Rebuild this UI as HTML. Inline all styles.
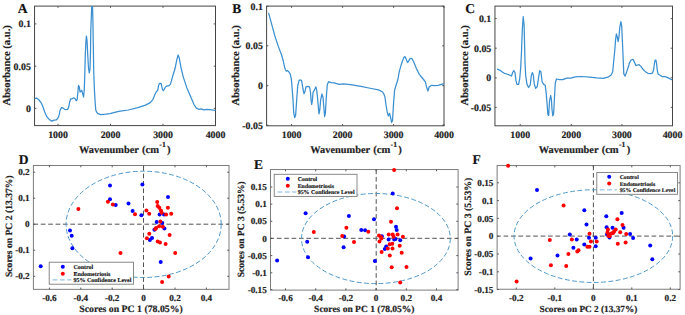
<!DOCTYPE html>
<html><head><meta charset="utf-8"><style>
html,body{margin:0;padding:0;background:#fff;width:685px;height:315px;overflow:hidden}
svg{display:block}
</style></head><body>
<svg width="685" height="315" viewBox="0 0 685 315">
<style>
text{font-family:"Liberation Serif", serif;font-weight:bold;fill:#222;stroke:#222;stroke-width:0.18px;text-rendering:geometricPrecision}
.t{font-size:9.9px}
.t2{font-size:9.2px}
.l{font-size:10.6px}
.l2{font-size:9.7px}
.p{font-size:13.5px;fill:#111}
.lg{font-size:6.0px;stroke-width:0.14px;fill:#111;stroke:#111}
</style>
<defs>
<clipPath id="cA"><rect x="34.55" y="6.1" width="180.95" height="119.5"/></clipPath>
<clipPath id="cB"><rect x="266.6" y="6.1" width="177.39999999999998" height="119.7"/></clipPath>
<clipPath id="cC"><rect x="494.95" y="6.1" width="177.55" height="119.7"/></clipPath>
<clipPath id="cD"><rect x="33.4" y="165.5" width="195.6" height="123.85000000000002"/></clipPath>
<clipPath id="cE"><rect x="270.5" y="169.55" width="187.60000000000002" height="120.55000000000001"/></clipPath>
<clipPath id="cF"><rect x="497.1" y="165.55" width="183.0" height="123.69"/></clipPath>
</defs>
<rect width="685" height="315" fill="#fff"/>
<rect x="34.55" y="6.1" width="180.95" height="119.5" fill="none" stroke="#454545" stroke-width="1.0"/>
<path d="M58 125.6v-1.8M58 6.1v1.8M110.5 125.6v-1.8M110.5 6.1v1.8M163 125.6v-1.8M163 6.1v1.8M215.5 125.6v-1.8M215.5 6.1v1.8M34.55 108.4h1.8M215.5 108.4h-1.8M34.55 66.2h1.8M215.5 66.2h-1.8M34.55 23.9h1.8M215.5 23.9h-1.8" stroke="#4a4a4a" stroke-width="0.9" fill="none"/>
<polyline points="34.4,98.8 35.1,98.3 36.8,98.1 39,100 41.2,102.8 42.9,106.7 44.6,111.7 46.8,116.7 49.6,119.8 51.8,121.1 54,120.2 56.2,120 57.9,118.3 59.3,114.4 60,110.5 61.5,107.6 63,107.9 64.6,109.4 66.1,109.6 67.6,109.4 68.6,107.4 69.6,102.3 70.7,98.8 72.2,98.8 73.7,97.8 75.2,98.8 76.2,100.8 77.1,99.8 77.8,93.2 78.5,85.3 79.3,87.1 80.1,92.2 80.8,91.2 81.8,90.4 82.8,94.2 83.6,97 84.2,90.2 84.7,78 85.3,55 85.9,42 86.4,36 87,40 87.8,56 88.5,68 89.3,73 90,69 90.5,52 90.8,30 91.5,12 92,2 92.4,2 92.9,20 93.3,45 93.7,70 94.2,85 94.6,93 95.2,103 95.8,110.2 97,112.8 98.1,113.7 100.7,114.6 106,114.2 110,113.6 113.8,112.6 118.8,111.4 128.3,110 137.9,107.6 145.5,105.1 150.3,102.6 152.8,99.7 155,94.3 156.6,91.3 157.7,90.5 158.5,85.9 159.3,83.6 160.4,83.3 161.2,83.6 161.8,86.7 162.5,89.7 163.5,90.5 164.6,88.6 165.7,86.7 167.3,85.9 168.8,85.9 170.3,84.4 171.5,80.6 172.6,76.5 175,68.8 176.9,59.3 178.1,55 179.3,58.1 181,67.6 183.3,77.1 186.9,87.9 190.5,96.2 194,104.5 196.4,108.1 198.8,109.3 201.2,108.8 203.6,109.8 207.1,109.3 211.9,109.8 215.7,110.5" fill="none" stroke="#3a8fd0" stroke-width="1.25" stroke-linejoin="round" stroke-linecap="round" clip-path="url(#cA)"/>
<text x="58" y="137.69" text-anchor="middle" class="t">1000</text>
<text x="110.5" y="137.69" text-anchor="middle" class="t">2000</text>
<text x="163" y="137.69" text-anchor="middle" class="t">3000</text>
<text x="215.5" y="137.69" text-anchor="middle" class="t">4000</text>
<text x="30.85" y="111.75" text-anchor="end" class="t">0</text>
<text x="30.85" y="69.55" text-anchor="end" class="t">0.05</text>
<text x="30.85" y="27.25" text-anchor="end" class="t">0.1</text>
<text x="79.05" y="152.8" style="font-size:10.35px">Wavenumber</text>
<text x="141.95" y="152.8" style="font-size:10.6px">(cm</text>
<text x="159.35" y="146.6" style="font-size:7.7px">-1</text>
<text x="166.95" y="152.8" style="font-size:10.6px">)</text>
<text x="0" y="0" text-anchor="middle" class="l" transform="translate(10 65.3) rotate(-90)">Absorbance (a.u.)</text>
<rect x="266.6" y="6.1" width="177.4" height="119.7" fill="none" stroke="#454545" stroke-width="1.0"/>
<path d="M291.6 125.8v-1.8M291.6 6.1v1.8M342.6 125.8v-1.8M342.6 6.1v1.8M393.6 125.8v-1.8M393.6 6.1v1.8M444 125.8v-1.8M444 6.1v1.8M266.6 125.2h1.8M444 125.2h-1.8M266.6 85.7h1.8M444 85.7h-1.8M266.6 45.8h1.8M444 45.8h-1.8M266.6 6.3h1.8M444 6.3h-1.8" stroke="#4a4a4a" stroke-width="0.9" fill="none"/>
<polyline points="268.7,13.4 271.6,23.9 274.9,36.1 278.2,46.1 281.6,55 283.3,61 284.3,66 285.3,69.5 286.3,71.2 287.2,70.5 288.6,71.5 290.3,74.2 291.3,79 291.8,84.1 293,99.4 293.7,112.7 294.7,117.5 295.6,115.6 296.6,101.3 297.7,86 299.1,80.3 300.6,79.9 301.6,80.6 302.9,88.5 304,93.7 305.1,90.9 306,86.9 307.9,86.4 309.5,86.9 310.5,92.5 311.1,100.4 311.7,104.4 312.4,100.4 313,92.5 314,90.9 315.1,88.5 315.9,86.9 316.7,90.1 317.5,97.2 318.3,106.7 319,113.9 319.8,109.9 320.6,100.4 321.9,94 323,97.2 323.8,106.7 324.6,116.6 325.4,113.1 326.2,98.8 327.3,84.5 328.6,81.7 331,82.6 334.1,82.8 339.3,84.4 343.4,83.9 350.6,84.6 361,86.4 371.3,88.5 378.5,89.9 382.6,92 383.6,93.6 385,97.1 386,105 387.1,111.4 388.3,116 389.6,113.4 390.6,117.5 391.6,122.3 392.5,120.7 393.6,102.9 394.6,90 396.4,84.3 397.9,79.5 399.3,71.4 401.2,64.8 403.1,59.2 404,57.2 404.9,56.6 405.9,58.4 407,61.4 407.7,62.5 408.6,61.2 409.8,58.9 411.1,58.3 412.4,59.3 414.5,63.8 416.4,68.6 419.3,74.3 423.1,79 425.4,81.9 426.5,86.7 427.9,91 429.2,86.7 431.7,85.3 434.5,85.7 438.3,85.3 442.1,84.2 444.3,83.8" fill="none" stroke="#3a8fd0" stroke-width="1.25" stroke-linejoin="round" stroke-linecap="round" clip-path="url(#cB)"/>
<text x="291.6" y="137.69" text-anchor="middle" class="t">1000</text>
<text x="342.6" y="137.69" text-anchor="middle" class="t">2000</text>
<text x="393.6" y="137.69" text-anchor="middle" class="t">3000</text>
<text x="444" y="137.69" text-anchor="middle" class="t">4000</text>
<text x="262.9" y="128.55" text-anchor="end" class="t">-0.05</text>
<text x="262.9" y="89.05" text-anchor="end" class="t">0</text>
<text x="262.9" y="49.15" text-anchor="end" class="t">0.05</text>
<text x="262.9" y="9.65" text-anchor="end" class="t">0.1</text>
<text x="310.3" y="152.8" style="font-size:10.35px">Wavenumber</text>
<text x="373.2" y="152.8" style="font-size:10.6px">(cm</text>
<text x="390.6" y="146.6" style="font-size:7.7px">-1</text>
<text x="398.2" y="152.8" style="font-size:10.6px">)</text>
<text x="0" y="0" text-anchor="middle" class="l" transform="translate(238.7 65.3) rotate(-90)">Absorbance (a.u.)</text>
<rect x="494.95" y="6.1" width="177.55" height="119.7" fill="none" stroke="#454545" stroke-width="1.0"/>
<path d="M520.2 125.8v-1.8M520.2 6.1v1.8M571.3 125.8v-1.8M571.3 6.1v1.8M621.9 125.8v-1.8M621.9 6.1v1.8M672.5 125.8v-1.8M672.5 6.1v1.8M494.95 107.4h1.8M672.5 107.4h-1.8M494.95 77.8h1.8M672.5 77.8h-1.8M494.95 48.2h1.8M672.5 48.2h-1.8M494.95 18.6h1.8M672.5 18.6h-1.8" stroke="#4a4a4a" stroke-width="0.9" fill="none"/>
<polyline points="497.4,69.2 499.6,70.1 501.9,71.7 504.3,73.3 506.7,74 509.1,74.8 511.5,76 512.7,72.5 513.8,70.6 515,72.5 515.9,80.4 517,84.4 518.6,84.4 519.7,78.8 520.7,67.7 521.5,52 522.3,30 523.2,16.7 524.1,25 524.6,45 525,62 525.7,75.6 527,84.4 528.6,87.5 530.2,85.2 531.3,75.6 532.4,72.5 533.4,75.6 534.2,83.6 535.6,88.3 537.2,86.7 538.4,78.8 539.7,70.6 540.8,71.7 541.6,77.2 542.1,81.7 543.7,84.4 545.2,85.2 546.2,93.1 547.2,105.5 547.9,114.8 548.7,115.4 549.5,101.3 550.7,95.5 551.4,99.3 552,109.6 552.8,115.8 553.6,114.1 554.5,97.2 555.3,82.7 556.5,79 559.6,79.6 562.7,79.6 566.9,78.2 571,78.2 575.1,76.9 581.3,76.5 589.6,77.1 596.7,77.9 603.3,78.3 607.8,77.2 611.1,75 612.7,71.7 614,58.3 614.8,50 615.6,39.4 616.4,33.9 617.2,36.7 618.1,41.7 618.9,37.2 619.8,27.2 620.9,21.7 621.7,26.1 622.2,37.2 622.8,50 623.3,62 623.8,73.9 625.1,76.1 626.7,71.7 628.9,65 629.4,62.9 631.1,60 633,59.3 634.4,62.1 635.9,65.7 637.3,65 639.1,64.7 640.9,66.4 643,69.3 645.1,71.4 648,73.3 650.9,73.6 652.6,72.9 653.7,69.3 654.4,63.6 655.1,60 655.9,60 656.6,63.6 657.3,70.7 658.3,74.3 660.1,75.3 662.3,76.7 664.4,76.7 666.6,77.1 668.7,78.1 670.9,79.3 672,79.7" fill="none" stroke="#3a8fd0" stroke-width="1.25" stroke-linejoin="round" stroke-linecap="round" clip-path="url(#cC)"/>
<text x="520.2" y="137.69" text-anchor="middle" class="t">1000</text>
<text x="571.3" y="137.69" text-anchor="middle" class="t">2000</text>
<text x="621.9" y="137.69" text-anchor="middle" class="t">3000</text>
<text x="672.5" y="137.69" text-anchor="middle" class="t">4000</text>
<text x="491.25" y="110.75" text-anchor="end" class="t">-0.05</text>
<text x="491.25" y="81.15" text-anchor="end" class="t">0</text>
<text x="491.25" y="51.55" text-anchor="end" class="t">0.05</text>
<text x="491.25" y="21.95" text-anchor="end" class="t">0.1</text>
<text x="538.75" y="152.8" style="font-size:10.35px">Wavenumber</text>
<text x="601.65" y="152.8" style="font-size:10.6px">(cm</text>
<text x="619.05" y="146.6" style="font-size:7.7px">-1</text>
<text x="626.65" y="152.8" style="font-size:10.6px">)</text>
<text x="0" y="0" text-anchor="middle" class="l" transform="translate(467.9 65.3) rotate(-90)">Absorbance (a.u.)</text>
<rect x="33.4" y="165.5" width="195.6" height="123.85" fill="none" stroke="#7c7c7c" stroke-width="1.0"/>
<path d="M49.4 289.35v-1.8M49.4 165.5v1.8M80.8 289.35v-1.8M80.8 165.5v1.8M112.2 289.35v-1.8M112.2 165.5v1.8M143.6 289.35v-1.8M143.6 165.5v1.8M175 289.35v-1.8M175 165.5v1.8M206.4 289.35v-1.8M206.4 165.5v1.8M33.4 276.3h1.8M229 276.3h-1.8M33.4 250.2h1.8M229 250.2h-1.8M33.4 224.2h1.8M229 224.2h-1.8M33.4 198.2h1.8M229 198.2h-1.8M33.4 172.2h1.8M229 172.2h-1.8" stroke="#4a4a4a" stroke-width="0.9" fill="none"/>
<line x1="33.4" y1="224.2" x2="229" y2="224.2" stroke="#4a4a4a" stroke-width="0.95" stroke-dasharray="4.7 2.7" stroke-dashoffset="0"/>
<line x1="143.5" y1="165.5" x2="143.5" y2="289.35" stroke="#4a4a4a" stroke-width="0.95" stroke-dasharray="4.7 2.7" stroke-dashoffset="6.7"/>
<g clip-path="url(#cD)">
<ellipse cx="143.65" cy="224.35" rx="77.55" ry="53.15" fill="none" stroke="#4f98c8" stroke-width="1.0" stroke-dasharray="4.8 2.5"/>
</g>
<circle cx="110" cy="185.5" r="2.0" fill="#0000ff"/>
<circle cx="142.4" cy="184.6" r="2.0" fill="#0000ff"/>
<circle cx="110" cy="199.3" r="2.0" fill="#0000ff"/>
<circle cx="115.7" cy="205" r="2.0" fill="#0000ff"/>
<circle cx="128.5" cy="203.5" r="2.0" fill="#0000ff"/>
<circle cx="132.6" cy="211" r="2.0" fill="#0000ff"/>
<circle cx="141.4" cy="215.2" r="2.0" fill="#0000ff"/>
<circle cx="168" cy="197.1" r="2.0" fill="#0000ff"/>
<circle cx="159.6" cy="214.6" r="2.0" fill="#0000ff"/>
<circle cx="164" cy="214.6" r="2.0" fill="#0000ff"/>
<circle cx="156.7" cy="222" r="2.0" fill="#0000ff"/>
<circle cx="162.3" cy="222.9" r="2.0" fill="#0000ff"/>
<circle cx="164.4" cy="228.6" r="2.0" fill="#0000ff"/>
<circle cx="154.4" cy="229.7" r="2.0" fill="#0000ff"/>
<circle cx="152" cy="238" r="2.0" fill="#0000ff"/>
<circle cx="149.9" cy="239.9" r="2.0" fill="#0000ff"/>
<circle cx="160.7" cy="262.1" r="2.0" fill="#0000ff"/>
<circle cx="70" cy="230.5" r="2.0" fill="#0000ff"/>
<circle cx="71.7" cy="235.7" r="2.0" fill="#0000ff"/>
<circle cx="72.4" cy="248.3" r="2.0" fill="#0000ff"/>
<circle cx="40.7" cy="266.2" r="2.0" fill="#0000ff"/>
<circle cx="107.9" cy="201.8" r="2.0" fill="#ff0000"/>
<circle cx="112.8" cy="204.5" r="2.0" fill="#ff0000"/>
<circle cx="78.4" cy="208.9" r="2.0" fill="#ff0000"/>
<circle cx="135" cy="214.2" r="2.0" fill="#ff0000"/>
<circle cx="146.4" cy="210.4" r="2.0" fill="#ff0000"/>
<circle cx="149.2" cy="213.8" r="2.0" fill="#ff0000"/>
<circle cx="157.2" cy="201.9" r="2.0" fill="#ff0000"/>
<circle cx="157.7" cy="205.9" r="2.0" fill="#ff0000"/>
<circle cx="159.3" cy="207.8" r="2.0" fill="#ff0000"/>
<circle cx="160.9" cy="210.6" r="2.0" fill="#ff0000"/>
<circle cx="161.7" cy="212.7" r="2.0" fill="#ff0000"/>
<circle cx="167.9" cy="207.8" r="2.0" fill="#ff0000"/>
<circle cx="166.1" cy="214.6" r="2.0" fill="#ff0000"/>
<circle cx="171.2" cy="213.8" r="2.0" fill="#ff0000"/>
<circle cx="160.4" cy="221.4" r="2.0" fill="#ff0000"/>
<circle cx="159.1" cy="226.2" r="2.0" fill="#ff0000"/>
<circle cx="156.1" cy="228" r="2.0" fill="#ff0000"/>
<circle cx="162.8" cy="226.8" r="2.0" fill="#ff0000"/>
<circle cx="155.3" cy="228.9" r="2.0" fill="#ff0000"/>
<circle cx="149.3" cy="233.8" r="2.0" fill="#ff0000"/>
<circle cx="169.6" cy="234.9" r="2.0" fill="#ff0000"/>
<circle cx="146.9" cy="238.2" r="2.0" fill="#ff0000"/>
<circle cx="157.7" cy="241.5" r="2.0" fill="#ff0000"/>
<circle cx="160" cy="242.5" r="2.0" fill="#ff0000"/>
<circle cx="165.6" cy="244.1" r="2.0" fill="#ff0000"/>
<circle cx="175.2" cy="253" r="2.0" fill="#ff0000"/>
<circle cx="168.7" cy="276.4" r="2.0" fill="#ff0000"/>
<circle cx="162.1" cy="281.9" r="2.0" fill="#ff0000"/>
<circle cx="120.5" cy="253.1" r="2.0" fill="#ff0000"/>
<text x="49.4" y="300.52" text-anchor="middle" class="t2">-0.6</text>
<text x="80.8" y="300.52" text-anchor="middle" class="t2">-0.4</text>
<text x="112.2" y="300.52" text-anchor="middle" class="t2">-0.2</text>
<text x="143.6" y="300.52" text-anchor="middle" class="t2">0</text>
<text x="175" y="300.52" text-anchor="middle" class="t2">0.2</text>
<text x="206.4" y="300.52" text-anchor="middle" class="t2">0.4</text>
<text x="29.7" y="279.41" text-anchor="end" class="t2">-0.2</text>
<text x="29.7" y="253.31" text-anchor="end" class="t2">-0.1</text>
<text x="29.7" y="227.31" text-anchor="end" class="t2">0</text>
<text x="29.7" y="201.31" text-anchor="end" class="t2">0.1</text>
<text x="29.7" y="175.31" text-anchor="end" class="t2">0.2</text>
<rect x="49.2" y="262.2" width="84.3" height="22" fill="#fff" stroke="#7c7c7c" stroke-width="0.9"/>
<circle cx="62.8" cy="266.7" r="2.0" fill="#0000ff"/>
<circle cx="62.8" cy="273.65" r="2.0" fill="#ff0000"/>
<line x1="52.6" y1="279.9" x2="71.4" y2="279.9" stroke="#6aa8d4" stroke-width="0.85" stroke-dasharray="4.8 2.5"/>
<text x="73.4" y="268.68" class="lg" style="font-size:6.0px">Control</text>
<text x="73.4" y="275.63" class="lg" style="font-size:6.0px">Endometriosis</text>
<text x="73.4" y="281.88" class="lg" style="font-size:6.0px">95% Confidence Level</text>
<text x="131.05" y="312" text-anchor="middle" style="font-size:9.8px">Scores on PC 1 (78.05%)</text>
<text x="0" y="0" text-anchor="middle" style="font-size:9.65px" transform="translate(12.4 226.2) rotate(-90)">Scores on PC 2 (13.37%)</text>
<rect x="270.5" y="169.55" width="187.6" height="120.55" fill="none" stroke="#7c7c7c" stroke-width="1.0"/>
<path d="M285.5 290.1v-1.8M285.5 169.55v1.8M315.7 290.1v-1.8M315.7 169.55v1.8M345.9 290.1v-1.8M345.9 169.55v1.8M376.1 290.1v-1.8M376.1 169.55v1.8M406.3 290.1v-1.8M406.3 169.55v1.8M436.5 290.1v-1.8M436.5 169.55v1.8M270.5 289.7h1.8M458.1 289.7h-1.8M270.5 272.8h1.8M458.1 272.8h-1.8M270.5 255.6h1.8M458.1 255.6h-1.8M270.5 238.4h1.8M458.1 238.4h-1.8M270.5 221.3h1.8M458.1 221.3h-1.8M270.5 204.1h1.8M458.1 204.1h-1.8M270.5 187h1.8M458.1 187h-1.8" stroke="#4a4a4a" stroke-width="0.9" fill="none"/>
<line x1="270.5" y1="238.3" x2="458.1" y2="238.3" stroke="#4a4a4a" stroke-width="0.95" stroke-dasharray="4.7 2.7" stroke-dashoffset="1.1"/>
<line x1="376.2" y1="169.55" x2="376.2" y2="290.1" stroke="#4a4a4a" stroke-width="0.95" stroke-dasharray="4.7 2.7" stroke-dashoffset="0"/>
<g clip-path="url(#cE)">
<ellipse cx="375.9" cy="238.55" rx="74.4" ry="45.05" fill="none" stroke="#4f98c8" stroke-width="1.0" stroke-dasharray="4.8 2.5"/>
</g>
<circle cx="305.6" cy="213.2" r="2.0" fill="#0000ff"/>
<circle cx="307.2" cy="241.8" r="2.0" fill="#0000ff"/>
<circle cx="308" cy="257.2" r="2.0" fill="#0000ff"/>
<circle cx="277.1" cy="260.6" r="2.0" fill="#0000ff"/>
<circle cx="348.9" cy="216" r="2.0" fill="#0000ff"/>
<circle cx="374" cy="219.2" r="2.0" fill="#0000ff"/>
<circle cx="361.3" cy="229.9" r="2.0" fill="#0000ff"/>
<circle cx="365.1" cy="230.2" r="2.0" fill="#0000ff"/>
<circle cx="344.1" cy="236.5" r="2.0" fill="#0000ff"/>
<circle cx="343.6" cy="247.2" r="2.0" fill="#0000ff"/>
<circle cx="392.7" cy="193.4" r="2.0" fill="#0000ff"/>
<circle cx="396" cy="226.7" r="2.0" fill="#0000ff"/>
<circle cx="396.7" cy="230" r="2.0" fill="#0000ff"/>
<circle cx="381.9" cy="236.2" r="2.0" fill="#0000ff"/>
<circle cx="388.6" cy="239.6" r="2.0" fill="#0000ff"/>
<circle cx="394.2" cy="239.6" r="2.0" fill="#0000ff"/>
<circle cx="395.5" cy="238.9" r="2.0" fill="#0000ff"/>
<circle cx="400.2" cy="240.2" r="2.0" fill="#0000ff"/>
<circle cx="386.2" cy="246.6" r="2.0" fill="#0000ff"/>
<circle cx="384.8" cy="249" r="2.0" fill="#0000ff"/>
<circle cx="374.9" cy="261" r="2.0" fill="#0000ff"/>
<circle cx="313.8" cy="232.1" r="2.0" fill="#ff0000"/>
<circle cx="391" cy="221.8" r="2.0" fill="#ff0000"/>
<circle cx="346.4" cy="227.8" r="2.0" fill="#ff0000"/>
<circle cx="368.3" cy="231.8" r="2.0" fill="#ff0000"/>
<circle cx="342.2" cy="236" r="2.0" fill="#ff0000"/>
<circle cx="354" cy="242" r="2.0" fill="#ff0000"/>
<circle cx="379" cy="235.5" r="2.0" fill="#ff0000"/>
<circle cx="381" cy="237.1" r="2.0" fill="#ff0000"/>
<circle cx="381.4" cy="238.6" r="2.0" fill="#ff0000"/>
<circle cx="379.5" cy="241.5" r="2.0" fill="#ff0000"/>
<circle cx="388.7" cy="234.4" r="2.0" fill="#ff0000"/>
<circle cx="392.7" cy="234.4" r="2.0" fill="#ff0000"/>
<circle cx="393.6" cy="236.7" r="2.0" fill="#ff0000"/>
<circle cx="381.6" cy="251.9" r="2.0" fill="#ff0000"/>
<circle cx="387.8" cy="248.6" r="2.0" fill="#ff0000"/>
<circle cx="392.5" cy="248.6" r="2.0" fill="#ff0000"/>
<circle cx="389.7" cy="244.2" r="2.0" fill="#ff0000"/>
<circle cx="392.3" cy="243.7" r="2.0" fill="#ff0000"/>
<circle cx="399.7" cy="245.7" r="2.0" fill="#ff0000"/>
<circle cx="397" cy="208.3" r="2.0" fill="#ff0000"/>
<circle cx="397.6" cy="234.4" r="2.0" fill="#ff0000"/>
<circle cx="402.9" cy="236.7" r="2.0" fill="#ff0000"/>
<circle cx="401.7" cy="252.8" r="2.0" fill="#ff0000"/>
<circle cx="389.8" cy="255.6" r="2.0" fill="#ff0000"/>
<circle cx="391.7" cy="267.3" r="2.0" fill="#ff0000"/>
<circle cx="406.5" cy="267" r="2.0" fill="#ff0000"/>
<circle cx="400.2" cy="282.5" r="2.0" fill="#ff0000"/>
<circle cx="394.1" cy="169.9" r="2.0" fill="#ff0000"/>
<text x="285.5" y="300.52" text-anchor="middle" class="t2">-0.6</text>
<text x="315.7" y="300.52" text-anchor="middle" class="t2">-0.4</text>
<text x="345.9" y="300.52" text-anchor="middle" class="t2">-0.2</text>
<text x="376.1" y="300.52" text-anchor="middle" class="t2">0</text>
<text x="406.3" y="300.52" text-anchor="middle" class="t2">0.2</text>
<text x="436.5" y="300.52" text-anchor="middle" class="t2">0.4</text>
<text x="266.8" y="292.81" text-anchor="end" class="t2">-0.15</text>
<text x="266.8" y="275.91" text-anchor="end" class="t2">-0.1</text>
<text x="266.8" y="258.71" text-anchor="end" class="t2">-0.05</text>
<text x="266.8" y="241.51" text-anchor="end" class="t2">0</text>
<text x="266.8" y="224.41" text-anchor="end" class="t2">0.05</text>
<text x="266.8" y="207.21" text-anchor="end" class="t2">0.1</text>
<text x="266.8" y="190.11" text-anchor="end" class="t2">0.15</text>
<rect x="274.2" y="174.3" width="82.8" height="22.1" fill="#fff" stroke="#7c7c7c" stroke-width="0.9"/>
<circle cx="287.8" cy="178.8" r="2.0" fill="#0000ff"/>
<circle cx="287.8" cy="185.75" r="2.0" fill="#ff0000"/>
<line x1="277.6" y1="192" x2="296.4" y2="192" stroke="#6aa8d4" stroke-width="0.85" stroke-dasharray="4.8 2.5"/>
<text x="297.7" y="180.75" class="lg" style="font-size:5.9px">Control</text>
<text x="297.7" y="187.7" class="lg" style="font-size:5.9px">Endometriosis</text>
<text x="297.7" y="193.95" class="lg" style="font-size:5.9px">95% Confidence Level</text>
<text x="364.3" y="312" text-anchor="middle" style="font-size:9.5px">Scores on PC 1 (78.05%)</text>
<text x="0" y="0" text-anchor="middle" style="font-size:9.55px" transform="translate(244.1 229.3) rotate(-90)">Scores on PC 3 (5.53%)</text>
<rect x="497.1" y="165.55" width="183" height="123.69" fill="none" stroke="#7c7c7c" stroke-width="1.0"/>
<path d="M516.3 289.24v-1.8M516.3 165.55v1.8M554.8 289.24v-1.8M554.8 165.55v1.8M593.3 289.24v-1.8M593.3 165.55v1.8M631.8 289.24v-1.8M631.8 165.55v1.8M670.3 289.24v-1.8M670.3 165.55v1.8M497.1 289.5h1.8M680.1 289.5h-1.8M497.1 271.8h1.8M680.1 271.8h-1.8M497.1 254h1.8M680.1 254h-1.8M497.1 236.2h1.8M680.1 236.2h-1.8M497.1 218.4h1.8M680.1 218.4h-1.8M497.1 200.6h1.8M680.1 200.6h-1.8M497.1 182.8h1.8M680.1 182.8h-1.8" stroke="#4a4a4a" stroke-width="0.9" fill="none"/>
<line x1="497.1" y1="236.1" x2="680.1" y2="236.1" stroke="#4a4a4a" stroke-width="0.95" stroke-dasharray="4.7 2.7" stroke-dashoffset="0.9"/>
<line x1="593.4" y1="165.55" x2="593.4" y2="289.24" stroke="#4a4a4a" stroke-width="0.95" stroke-dasharray="4.7 2.7" stroke-dashoffset="0"/>
<g clip-path="url(#cF)">
<ellipse cx="593.4" cy="236.1" rx="79.3" ry="46.35" fill="none" stroke="#4f98c8" stroke-width="1.0" stroke-dasharray="4.8 2.5"/>
</g>
<circle cx="537" cy="189.9" r="2.0" fill="#0000ff"/>
<circle cx="584.3" cy="210.3" r="2.0" fill="#0000ff"/>
<circle cx="586.5" cy="224.5" r="2.0" fill="#0000ff"/>
<circle cx="606.3" cy="216.2" r="2.0" fill="#0000ff"/>
<circle cx="606.6" cy="227.2" r="2.0" fill="#0000ff"/>
<circle cx="569.8" cy="234.4" r="2.0" fill="#0000ff"/>
<circle cx="589" cy="237.8" r="2.0" fill="#0000ff"/>
<circle cx="595.7" cy="237.8" r="2.0" fill="#0000ff"/>
<circle cx="576.7" cy="239.4" r="2.0" fill="#0000ff"/>
<circle cx="621.7" cy="213" r="2.0" fill="#0000ff"/>
<circle cx="623.6" cy="227.8" r="2.0" fill="#0000ff"/>
<circle cx="612.5" cy="227.7" r="2.0" fill="#0000ff"/>
<circle cx="630.1" cy="234" r="2.0" fill="#0000ff"/>
<circle cx="633.1" cy="238" r="2.0" fill="#0000ff"/>
<circle cx="607" cy="234.6" r="2.0" fill="#0000ff"/>
<circle cx="609.5" cy="237.4" r="2.0" fill="#0000ff"/>
<circle cx="584.3" cy="244.6" r="2.0" fill="#0000ff"/>
<circle cx="595.7" cy="246.3" r="2.0" fill="#0000ff"/>
<circle cx="573.4" cy="247.7" r="2.0" fill="#0000ff"/>
<circle cx="557.5" cy="255.6" r="2.0" fill="#0000ff"/>
<circle cx="530.6" cy="258.6" r="2.0" fill="#0000ff"/>
<circle cx="650.2" cy="245.4" r="2.0" fill="#0000ff"/>
<circle cx="652.3" cy="259.2" r="2.0" fill="#0000ff"/>
<circle cx="508.1" cy="165.8" r="2.0" fill="#ff0000"/>
<circle cx="563.6" cy="205.4" r="2.0" fill="#ff0000"/>
<circle cx="589.5" cy="233.8" r="2.0" fill="#ff0000"/>
<circle cx="571.9" cy="239.4" r="2.0" fill="#ff0000"/>
<circle cx="617.4" cy="219.3" r="2.0" fill="#ff0000"/>
<circle cx="622.5" cy="225.1" r="2.0" fill="#ff0000"/>
<circle cx="607.9" cy="229.5" r="2.0" fill="#ff0000"/>
<circle cx="615.7" cy="229.6" r="2.0" fill="#ff0000"/>
<circle cx="614.1" cy="231.6" r="2.0" fill="#ff0000"/>
<circle cx="613.1" cy="233.1" r="2.0" fill="#ff0000"/>
<circle cx="620.2" cy="232.2" r="2.0" fill="#ff0000"/>
<circle cx="626.2" cy="233.9" r="2.0" fill="#ff0000"/>
<circle cx="607.5" cy="232.6" r="2.0" fill="#ff0000"/>
<circle cx="608.9" cy="234.4" r="2.0" fill="#ff0000"/>
<circle cx="611.3" cy="233.4" r="2.0" fill="#ff0000"/>
<circle cx="608.3" cy="235.7" r="2.0" fill="#ff0000"/>
<circle cx="609.5" cy="236.3" r="2.0" fill="#ff0000"/>
<circle cx="617.8" cy="243.7" r="2.0" fill="#ff0000"/>
<circle cx="625.6" cy="242.5" r="2.0" fill="#ff0000"/>
<circle cx="549.8" cy="239.9" r="2.0" fill="#ff0000"/>
<circle cx="590.9" cy="241.5" r="2.0" fill="#ff0000"/>
<circle cx="596.7" cy="241.5" r="2.0" fill="#ff0000"/>
<circle cx="587.4" cy="246.7" r="2.0" fill="#ff0000"/>
<circle cx="589.5" cy="246.7" r="2.0" fill="#ff0000"/>
<circle cx="578.5" cy="250.3" r="2.0" fill="#ff0000"/>
<circle cx="577.3" cy="251.5" r="2.0" fill="#ff0000"/>
<circle cx="568.4" cy="253.9" r="2.0" fill="#ff0000"/>
<circle cx="550.9" cy="265.3" r="2.0" fill="#ff0000"/>
<circle cx="566.2" cy="265.9" r="2.0" fill="#ff0000"/>
<circle cx="516.6" cy="281.4" r="2.0" fill="#ff0000"/>
<text x="516.3" y="300.52" text-anchor="middle" class="t2">-0.2</text>
<text x="554.8" y="300.52" text-anchor="middle" class="t2">-0.1</text>
<text x="593.3" y="300.52" text-anchor="middle" class="t2">0</text>
<text x="631.8" y="300.52" text-anchor="middle" class="t2">0.1</text>
<text x="670.3" y="300.52" text-anchor="middle" class="t2">0.2</text>
<text x="493.4" y="292.61" text-anchor="end" class="t2">-0.15</text>
<text x="493.4" y="274.91" text-anchor="end" class="t2">-0.1</text>
<text x="493.4" y="257.11" text-anchor="end" class="t2">-0.05</text>
<text x="493.4" y="239.31" text-anchor="end" class="t2">0</text>
<text x="493.4" y="221.51" text-anchor="end" class="t2">0.05</text>
<text x="493.4" y="203.71" text-anchor="end" class="t2">0.1</text>
<text x="493.4" y="185.91" text-anchor="end" class="t2">0.15</text>
<rect x="596.8" y="172.5" width="80.7" height="21.8" fill="#fff" stroke="#7c7c7c" stroke-width="0.9"/>
<circle cx="609.2" cy="176.65" r="2.0" fill="#0000ff"/>
<circle cx="609.2" cy="183.6" r="2.0" fill="#ff0000"/>
<line x1="599.8" y1="189.85" x2="616.9" y2="189.85" stroke="#6aa8d4" stroke-width="0.85" stroke-dasharray="4.8 2.5"/>
<text x="619.7" y="178.55" class="lg" style="font-size:5.75px">Control</text>
<text x="619.7" y="185.5" class="lg" style="font-size:5.75px">Endometriosis</text>
<text x="619.7" y="191.75" class="lg" style="font-size:5.75px">95% Confidence Level</text>
<text x="588.4" y="312" text-anchor="middle" style="font-size:9.25px">Scores on PC 2 (13.37%)</text>
<text x="0" y="0" text-anchor="middle" style="font-size:9.75px" transform="translate(471.4 226.7) rotate(-90)">Scores on PC 3 (5.53%)</text>
<text x="17.7" y="12.9" class="p">A</text>
<text x="232.2" y="12.9" class="p">B</text>
<text x="465.2" y="12.9" class="p">C</text>
<text x="18.7" y="164" class="p">D</text>
<text x="254" y="168.9" class="p">E</text>
<text x="472.5" y="163.8" class="p">F</text>
</svg>
</body></html>
